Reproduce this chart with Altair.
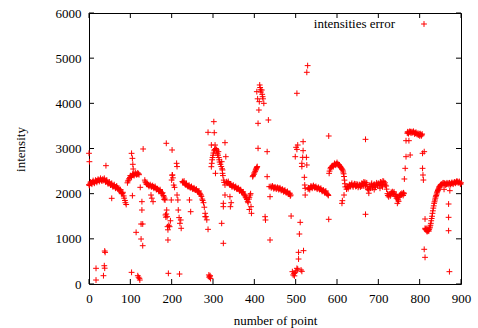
import altair as alt
import pandas as pd

# ---- data: (point number, intensity) ----
seg_a = [(0,2200),(3,2230),(6,2240),(9,2260),(12,2250),(15,2270),(18,2280),(21,2290),(24,2300),(27,2310),
         (30,2300),(33,2320),(36,2310),(39,2290),(42,2270),(45,2250),(48,2230),(51,2220),(54,2200),(57,2180),
         (60,2170),(63,2150),(66,2140),(69,2130),(72,2110),(75,2060),(78,2030),(81,2000),(84,1950),(87,1850),
         (90,1760),(93,2240),(96,2300),(99,2360),(102,2390),(105,2410),(108,2420),(111,2430),(114,2440),(117,2430),
         (120,2440)]
seg_a2 = [(1,2180),(4,2260),(7,2210),(10,2290),(13,2230),(16,2300),(19,2250),(22,2320),(25,2270),(28,2340),
          (31,2280),(34,2290),(37,2340),(40,2260),(43,2300),(46,2220),(49,2260),(52,2190),(55,2230),(58,2150),
          (61,2200),(64,2120),(67,2170),(70,2100),(73,2080),(76,2090),(79,2000),(82,2030),(85,1900),(88,1800),
          (94,2280),(97,2330),(100,2400),(103,2370),(106,2440),(109,2400),(112,2460),(115,2420),(118,2460),(121,2420)]
out_a = [(0,2894),(1,2708),(17,347),(17,88),(35,184),(37,405),(38,350),(38,730),(39,700),(41,2620),(55,1897),
         (103,2893),(105,2782),(106,2650),(107,2546),(105,1955),(103,258),(118,184),(120,150),(122,125),(123,88),
         (124,2140),(128,1823),(128,1638),(126,1328),(130,1328),(114,1144),(126,996),(130,848),(131,2989)]
seg_b = [(135,2300),(138,2240),(141,2200),(144,2190),(147,2180),(150,2170),(153,2160),(156,2150),(159,2140),
         (162,2120),(165,2100),(168,2080),(171,2070),(174,2040),(177,2000),(180,1960),(183,1900)]
seg_b2 = [(136,2260),(139,2210),(142,2220),(145,2160),(148,2200),(151,2150),(154,2180),(157,2120),(160,2160),
          (163,2090),(166,2110),(169,2050),(172,2090),(175,2010),(178,2020),(181,1930),(182,1870)]
out_b = [(150,1970),(152,1900),(155,1823),(184,1860),(185,1528),(186,1480),(187,3115),(187,1550),(188,1638),
         (189,1490),(190,1269),(191,1200),(191,974),(192,236),(193,1300),(195,1269),(197,1400),(199,1860),
         (200,2302),(201,2967),(201,2410),(202,2413),(203,2350),(205,2190),(207,2140),(212,2672),(213,2600),
         (213,1970),(215,1860),(216,1638),(218,1470),(220,1343),(222,1417),(223,1233),(219,221)]
seg_c = [(226,2270),(229,2250),(232,2220),(235,2190),(238,2180),(241,2160),(244,2150),(247,2140),(250,2120),
         (253,2110),(256,2100),(259,2080),(262,2060),(265,2040),(268,2010),(271,1970),(274,1880),(277,1800),
         (281,1565),(283,1490),(285,1420),(288,1210)]
seg_c2 = [(227,2240),(230,2280),(233,2200),(236,2220),(239,2160),(242,2190),(245,2130),(248,2160),(251,2100),
          (254,2130),(257,2080),(260,2100),(263,2040),(266,2060),(269,1990),(272,1940),(275,1850),(279,1700)]
out_c = [(243,1860),(246,1601),(281,1490),(288,3358),(290,200),(291,150),(292,162),(293,184),(294,120),
         (296,3077),(296,2597),(297,2672),(298,2750),(299,2800),(300,2850),(301,2900),(302,3594),(303,3350),
         (303,2950),(304,2980),(305,3077),(306,2450),(307,3000),(308,2960),(309,2967),(310,2900),(311,2880),
         (312,2850),(313,2930),(314,2800),(315,2750),(316,2700),(318,2650),(320,2600),(321,2708),(321,1343),
         (322,2550),(323,2524),(323,2450),(324,2400),(325,1786),(325,1712),(325,901),(326,2300),(327,2250),
         (329,3129),(329,2192),(329,1970),(331,2819)]
seg_d = [(333,2265),(336,2240),(339,2220),(342,2190),(345,2180),(348,2170),(351,2150),(354,2140),(357,2120),
         (360,2110),(363,2090),(366,2070),(369,2050),(372,2020),(375,1990),(378,1950),(381,1900),(384,1830),
         (387,1880),(390,1970),(396,2376),(399,2430),(402,2487),(405,2561),(407,2600)]
seg_d2 = [(334,2230),(337,2270),(340,2200),(343,2210),(346,2150),(349,2190),(352,2130),(355,2160),(358,2100),
          (361,2130),(364,2060),(367,2090),(370,2030),(373,2040),(376,1970),(379,1920),(382,1870),(385,1800),
          (388,1920),(391,2000),(397,2400),(400,2460),(403,2520),(404,2540),(406,2580)]
out_d = [(341,1933),(342,1712),(344,1800),(388,1650),(392,1712),(393,1565),
         (406,4258),(408,4100),(409,3557),(409,3004),(411,3852),(412,4037),(413,4406),(414,4350),(415,4300),
         (416,4250),(418,4295),(419,4200),(420,4147),(421,4100),(423,4000),(426,1490),(427,1417),(431,2930),
         (431,2376),(434,3631),(436,2155),(438,974),(438,1933)]
seg_e = [(440,2160),(443,2155),(446,2140),(449,2130),(452,2130),(455,2120),(458,2120),(461,2110),(464,2100),
         (467,2080),(470,2070),(473,2060),(476,2040),(479,2030),(482,2010),(485,1990),(488,1970)]
seg_e2 = [(441,2130),(444,2170),(447,2110),(450,2150),(453,2100),(456,2140),(459,2090),(462,2130),(465,2070),
          (468,2100),(471,2040),(474,2080),(477,2020),(480,2050),(483,1990),(486,2010),(487,1950)]
out_e = [(489,1505),(492,273),(494,200),(496,236),(497,180),(499,250),(501,290),(503,347),(505,330),(507,553),
         (507,701),(509,1107),(511,1365),(513,310),(515,280),(519,738),(499,2819),(501,3026),(503,4222),
         (503,2980),(505,3077),(515,2672),(515,2600),(517,2804),(518,3151),(518,2952),(521,2362),(522,2192),
         (523,2118),(523,1970),(526,2804),(527,2635),(527,4687),(529,4835)]
seg_f = [(530,2100),(533,2120),(536,2140),(539,2150),(542,2160),(545,2150),(548,2140),(551,2130),(554,2120),
         (557,2110),(560,2100),(563,2080),(566,2060),(569,2050),(572,2040),(575,2010),(578,1980),
         (581,2450),(584,2550),(587,2590),(590,2620),(593,2640),(596,2650),(599,2660),(602,2660),(605,2640),
         (608,2600),(611,2560),(614,2520),(616,2440),(618,2300),(620,2150)]
seg_f2 = [(531,2130),(534,2090),(537,2170),(540,2120),(543,2180),(546,2130),(549,2160),(552,2100),(555,2140),
          (558,2090),(561,2120),(564,2050),(567,2080),(570,2020),(573,2060),(576,1990),(579,1960),(582,2500),
          (585,2580),(588,2610),(591,2600),(594,2670),(597,2630),(600,2690),(603,2640),(606,2620),(609,2580),
          (612,2540),(615,2480),(617,2380),(619,2220)]
out_f = [(580,3277),(580,1432),(617,1970),(613,1845),(612,1786)]
seg_g = [(623,2100),(626,2140),(629,2170),(632,2190),(635,2200),(638,2180),(641,2190),(644,2210),(647,2170),
         (650,2200),(653,2160),(656,2190),(659,2170),(662,2220),(665,2180),(668,2250),(671,2200),(674,2120),
         (677,2080),(680,2150),(683,2200),(686,2130),(689,2190),(692,2170),(695,2210),(698,2180),(701,2230),
         (704,2190),(707,2250),(710,2200),(713,2270),(716,2240),(719,2170),(665,2260),(677,2010),(690,2090),
         (704,2120),(710,2150)]
seg_g2 = [(624,2160),(627,2110),(630,2200),(633,2160),(636,2230),(639,2150),(642,2220),(645,2160),(648,2210),
          (651,2140),(654,2200),(657,2150),(660,2230),(663,2170),(666,2230),(669,2190),(672,2240),(675,2090),
          (678,2160),(681,2120),(684,2230),(687,2170),(690,2210),(693,2140),(696,2240),(699,2210),(702,2180),
          (705,2260),(708,2190),(711,2280),(714,2210),(717,2190),(720,2100)]
out_g = [(669,3203),(669,1543)]
seg_h = [(722,2000),(725,1930),(728,1980),(731,2030),(734,2045),(737,2010),(740,1980),(743,1970),(746,1933),
         (746,1786),(748,1860),(750,1920),(753,1960),(756,1980),(759,1990),(762,2000)]
seg_h2 = [(723,1960),(726,1990),(729,1950),(732,2010),(735,2000),(738,2040),(741,1940),(744,1900),(747,1880),
          (749,1830),(751,1960),(754,1990),(757,2010),(760,1960),(761,2020)]
out_h = [(763,2325),(765,2561),(767,2819),(767,3173),(774,3173),(777,2856),
         (770,3340),(772,3358),(775,3360),(778,3370),(781,3372),(784,3360),(787,3350),(790,3340),(793,3330),
         (796,3336),(799,3320),(802,3310),(805,3300),(800,3280),
         (771,3370),(773,3330),(776,3380),(779,3340),(782,3350),(785,3380),(788,3320),(791,3360),(794,3310),
         (797,3300),(801,3330),(804,3280),(806,3320),
         (807,2893),(807,2561),(808,2413),(809,2302),(811,2930),(813,1439),(811,768),(813,590)]
seg_i = [(813,1233),(815,1200),(817,1180),(819,1180),(821,1190),(823,1210),(825,1260),(827,1343),(829,1450),
         (831,1565),(833,1680),(835,1786),(837,1860),(839,1933),(841,1990),(843,2045),(845,2090),(847,2140),
         (850,2180),(853,2210),(856,2229),(859,2200),(862,2220),(865,2210),(868,2214),(871,2200),(874,2220),
         (877,2230),(880,2229),(883,2240),(886,2250),(889,2260),(892,2265),(895,2250),(898,2229),(900,2240)]
seg_i2 = [(814,1210),(816,1230),(818,1160),(820,1210),(822,1170),(824,1240),(826,1300),(828,1400),(830,1500),
          (832,1620),(834,1730),(836,1820),(838,1900),(840,1960),(842,2020),(844,2070),(846,2110),(848,2160),
          (851,2200),(854,2190),(857,2240),(860,2230),(863,2190),(866,2240),(869,2230),(872,2240),(875,2200),
          (878,2250),(881,2210),(884,2260),(887,2230),(890,2280),(893,2240),(896,2270),(899,2210)]
out_i = [(859,2096),(870,1771),(870,1476),(870,1180),(872,273),(873,2066)]

x_ticks = [0, 100, 200, 300, 400, 500, 600, 700, 800, 900]
y_ticks = [0, 1000, 2000, 3000, 4000, 5000, 6000]
legend_label = "intensities error"

all_pts = (seg_a + seg_a2 + out_a + seg_b + seg_b2 + out_b + seg_c + seg_c2 + out_c
           + seg_d + seg_d2 + out_d + seg_e + seg_e2 + out_e + seg_f + seg_f2 + out_f
           + seg_g + seg_g2 + out_g + seg_h + seg_h2 + out_h + seg_i + seg_i2 + out_i)
df = pd.DataFrame(all_pts, columns=["point", "intensity"])

W, H = 372, 271
FONT = "Liberation Serif"
RED = "#ff0000"
PLUS = "M-1,0L1,0M0,-1L0,1"

xs = alt.Scale(domain=[0, 900], nice=False, zero=False)
ys = alt.Scale(domain=[0, 6000], nice=False, zero=False)

x_axis = alt.Axis(values=x_ticks, format="d", title="number of point", grid=False, domain=False, ticks=False,
                  tickSize=0, labelPadding=8, labelFont=FONT, labelFontSize=13, labelColor="black",
                  labelFlush=False, labelOverlap=False, labelBound=False,
                  titleFont=FONT, titleFontSize=13, titleFontWeight="normal", titleColor="black",
                  titleX=186, titleY=36, titleBaseline="middle", titleAlign="center")
y_axis = alt.Axis(values=y_ticks, format="d", title="intensity", grid=False, domain=False, ticks=False,
                  tickSize=0, labelPadding=8, labelFont=FONT, labelFontSize=13, labelColor="black",
                  labelFlush=False, labelOverlap=False, labelBound=False,
                  titleFont=FONT, titleFontSize=13, titleFontWeight="normal", titleColor="black",
                  titleX=-69, titleY=136, titleAngle=-90, titleBaseline="middle", titleAlign="center")

points = alt.Chart(df).mark_point(shape=PLUS, size=34, filled=False, stroke=RED,
                                  strokeWidth=1, opacity=1).encode(
    x=alt.X("point:Q", scale=xs, axis=x_axis),
    y=alt.Y("intensity:Q", scale=ys, axis=y_axis),
)

xt = pd.DataFrame({"v": x_ticks})
yt = pd.DataFrame({"v": y_ticks})
TICK = 5
tick_color = "#000000"
bottom = alt.Chart(xt).mark_rule(color=tick_color, strokeWidth=1).encode(
    x=alt.X("v:Q", scale=xs), y=alt.value(H), y2=alt.value(H - TICK))
top = alt.Chart(xt).mark_rule(color=tick_color, strokeWidth=1).encode(
    x=alt.X("v:Q", scale=xs), y=alt.value(0), y2=alt.value(TICK))
left = alt.Chart(yt).mark_rule(color=tick_color, strokeWidth=1).encode(
    y=alt.Y("v:Q", scale=ys), x=alt.value(0), x2=alt.value(TICK))
right = alt.Chart(yt).mark_rule(color=tick_color, strokeWidth=1).encode(
    y=alt.Y("v:Q", scale=ys), x=alt.value(W), x2=alt.value(W - TICK))

leg = pd.DataFrame({"label": [legend_label]})
leg_text = alt.Chart(leg).mark_text(font=FONT, fontSize=13, align="right", baseline="middle",
                                    color="black").encode(
    text="label:N", x=alt.value(306), y=alt.value(11))
leg_sym = alt.Chart(leg).mark_point(shape=PLUS, size=34, filled=False, stroke=RED,
                                    strokeWidth=1, opacity=1).encode(
    x=alt.value(335), y=alt.value(11))

chart = alt.layer(points, bottom, top, left, right, leg_text, leg_sym).properties(
    width=W, height=H,
    autosize=alt.AutoSizeParams(type="none"),
    padding={"left": 89, "top": 13, "right": 17, "bottom": 44},
    background="white",
).configure_view(stroke="black", strokeWidth=1)

chart.save("out.html", embed_options={"renderer": "svg", "actions": False})
